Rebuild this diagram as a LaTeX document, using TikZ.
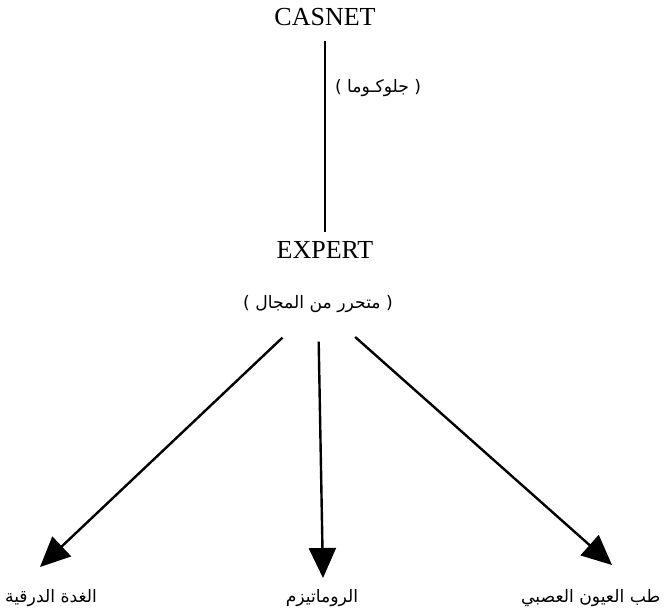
\documentclass[tikz,border=0pt]{standalone}
\usepackage{fontspec}
\setmainfont{Liberation Serif}
\newfontfamily\arabicfont[Script=Arabic]{DejaVu Sans}
\TeXXeTstate=1
\usetikzlibrary{arrows.meta}

\begin{document}
\begin{tikzpicture}[
  x=0.5pt, y=-0.5pt,
  sysname/.style={font=\fontsize{13}{15}\selectfont},
  artext/.style={font=\arabicfont\fontsize{8.6}{11}\selectfont},
  link/.style={line width=1.2pt},
  arr/.style={line width=1.2pt, -{Triangle[length=15pt,width=13.5pt]}}
]
  \useasboundingbox (0,0) rectangle (666,612);

  \node[sysname] (casnet) at (325,17) {CASNET};
  \node[sysname] (expert) at (325,250) {EXPERT};
  \node[artext, anchor=west] (glaucoma) at (328,88) {\beginR( جلوكـوما )\endR};
  \node[artext] (domain) at (318,304) {\beginR( متحرر من المجال )\endR};

  \node[artext, anchor=west] (thyroid) at (-2,598) {\beginR الغدة الدرقية\endR};
  \node[artext] (rheuma) at (322,598) {\beginR الروماتيزم\endR};
  \node[artext, anchor=west] (neuro) at (514,598) {\beginR طب العيون العصبي\endR};

  \coordinate (thyroidtip) at (40,567);
  \coordinate (rheumatip) at (323,578);
  \coordinate (neurotip) at (612,565);

  \draw[link, shorten <=4pt, shorten >=1pt] (casnet) -- (expert);
  \draw[arr, shorten <=13pt] (domain) -- (thyroidtip);
  \draw[arr, shorten <=11pt] (domain) -- (rheumatip);
  \draw[arr, shorten <=13pt] (domain) -- (neurotip);
\end{tikzpicture}
\end{document}
